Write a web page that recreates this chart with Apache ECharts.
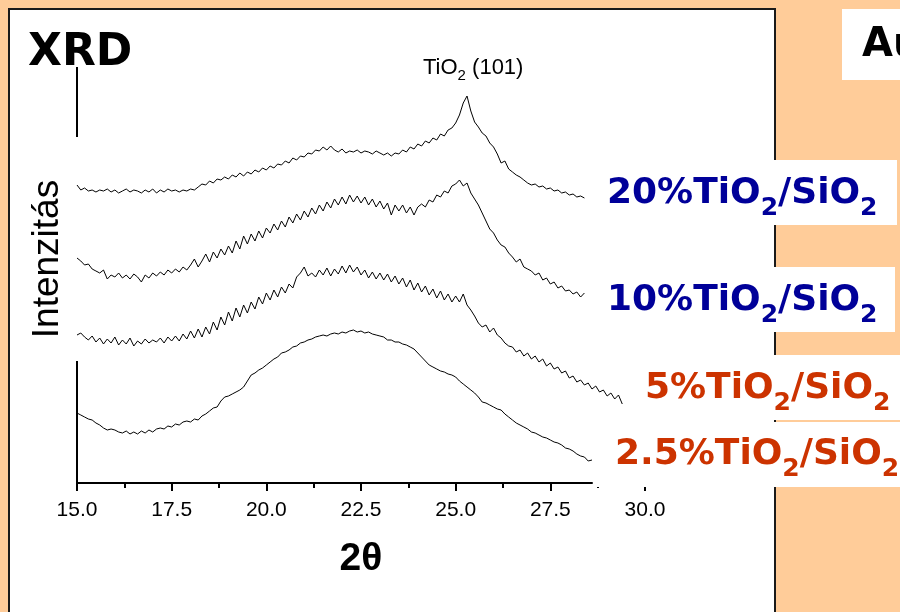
<!DOCTYPE html>
<html><head><meta charset="utf-8">
<script src="https://cdn.jsdelivr.net/npm/echarts@6/dist/echarts.min.js"></script>
<style>html,body{margin:0;padding:0;background:#FFCC99;}#c{width:900px;height:612px;}</style>
</head><body><div id="c"></div>
<script>
// 2θ sampling grid
const twoThetaStart = 15.0;
const twoThetaStep = 0.1;
// intensities (arbitrary units, offset-stacked as in the figure)
const s20 = [298,293,295,292,293,291,293,292,294,291,
 293,290,292,294,291,293,292,290,293,291,
 294,290,293,291,294,292,293,291,293,292,
 294,293,296,299,298,302,300,304,303,306,
 304,308,306,310,307,311,309,313,311,315,
 313,317,315,319,318,322,320,325,323,327,
 326,330,329,333,332,336,333,337,333,331,
 334,330,332,331,333,330,332,331,329,332,
 330,328,330,327,330,329,333,331,336,334,
 339,337,342,340,345,343,349,347,353,355,
 360,368,380,387,372,361,356,350,347,340,
 336,329,320,322,314,311,308,306,303,300,
 298,299,296,297,294,295,292,293,290,291,
 288,289,286,287,285];
const s10 = [225,222,218,219,214,212,210,213,204,208,
 206,210,205,208,204,209,206,201,208,205,
 210,207,211,208,213,210,214,211,216,213,
 218,224,216,222,229,221,231,225,234,228,
 237,230,242,234,247,239,249,242,252,245,
 255,250,259,253,262,256,266,260,269,263,
 272,266,275,269,278,272,281,275,284,278,
 286,279,288,281,287,280,286,278,284,276,
 282,274,280,268,278,272,278,270,276,268,
 276,279,276,283,281,288,286,292,290,297,
 299,303,297,300,290,284,278,270,262,254,
 250,243,238,236,230,226,221,224,216,214,
 212,208,210,203,205,199,201,195,197,192,
 193,189,191,186,190];
const s5 = [148,150,146,143,147,141,145,139,144,140,
 146,138,143,139,145,137,142,139,144,140,
 143,141,145,140,146,142,147,142,149,144,
 152,145,154,146,156,149,161,153,166,158,
 171,162,175,166,178,170,181,174,186,179,
 190,183,193,186,196,190,199,195,206,210,
 216,207,210,206,213,208,215,207,214,209,
 217,210,218,211,216,208,213,205,211,204,
 210,203,209,201,207,199,205,196,203,193,
 200,191,197,188,194,185,192,183,189,181,
 187,181,189,178,173,167,160,156,158,151,
 155,148,145,140,137,136,131,133,127,130,
 124,127,121,124,117,120,114,116,110,112,
 105,107,101,103,98,100,94,97,91,93,
 87,90,84,88,79];
const s25 = [70,68,66,64,63,60,58,55,53,54,
 53,51,50,52,49,51,49,52,50,53,
 51,54,55,54,57,56,59,58,61,62,
 61,64,63,67,69,72,75,76,82,86,
 87,89,91,93,96,102,108,110,113,115,
 118,121,124,126,130,131,133,136,137,140,
 141,143,144,146,147,148,147,149,150,149,
 151,150,152,153,151,152,150,151,149,148,
 147,146,143,143,141,141,139,138,136,134,
 130,126,122,118,116,114,112,111,109,108,
 106,102,99,96,93,90,86,81,80,78,
 76,74,73,69,66,63,60,58,56,54,
 51,50,48,46,45,43,41,40,38,35,
 34,32,29,27,26,22,23];
const seriesNames = ['20%TiO2/SiO2','10%TiO2/SiO2','5%TiO2/SiO2','2.5%TiO2/SiO2'];
const xMin = 15, xMax = 30, xInterval = 2.5;
const xAxisLineEnd = 28.62;          // drawn extent of the bottom axis line
const yAxisSegments = [[416, 346], [122, 0]]; // visible pieces of the left axis line
const yMax = 483;

function toXY(arr) {
  return arr.map((v, i) => [+(twoThetaStart + i * twoThetaStep).toFixed(2), v]);
}
const curves = [s20, s10, s5, s25];

const series = curves.map((c, k) => ({
  name: seriesNames[k], type: 'line', data: toXY(c), showSymbol: false, symbol: 'none',
  lineStyle: { color: '#000', width: 1 }, silent: true, z: 2, animation: false
}));
series.push({
  type: 'line', data: [[xMin, 0], [xAxisLineEnd, 0]], symbol: 'none', silent: true,
  lineStyle: { color: '#000', width: 2 }, z: 2, animation: false
});
yAxisSegments.forEach(seg => series.push({
  type: 'line', data: [[xMin, seg[0]], [xMin, seg[1]]], symbol: 'none', silent: true,
  lineStyle: { color: '#000', width: 2 }, z: 2, animation: false
}));

const blue = '#000099', orange = '#CC3300';
function labelRich(color) {
  return {
    m: { fontFamily: 'DejaVu Sans', fontWeight: 'bold', fontSize: 36, lineHeight: 44, fill: color },
    s: { fontFamily: 'DejaVu Sans', fontWeight: 'bold', fontSize: 25, lineHeight: 16, padding: [28, 0, 0, 0], fill: color }
  };
}
function labelText(pre) { return '{m|' + pre + 'TiO}{s|2}{m|/SiO}{s|2}'; }

const option = {
  backgroundColor: '#FFCC99',
  animation: false,
  grid: { left: 77, right: 255, top: 0, bottom: 129, containLabel: false },
  xAxis: {
    type: 'value', min: xMin, max: xMax, interval: xInterval,
    axisLine: { show: false },
    axisTick: { show: true, inside: false, length: 8, lineStyle: { color: '#000', width: 2 } },
    minorTick: { show: true, splitNumber: 2, length: 5, lineStyle: { color: '#000', width: 2 } },
    splitLine: { show: false },
    axisLabel: { fontFamily: 'Liberation Sans', fontSize: 21, color: '#000', margin: 17,
      formatter: v => v.toFixed(1) }
  },
  yAxis: { type: 'value', min: 0, max: yMax, show: false, splitLine: { show: false } },
  series: series,
  graphic: [
    { type: 'rect', z: 0, silent: true, shape: { x: 9, y: 9, width: 766, height: 640 },
      style: { fill: '#fff', stroke: '#1a1a1a', lineWidth: 2 } },
    { type: 'rect', z: 1, silent: true, shape: { x: 600, y: 160, width: 297, height: 65 }, style: { fill: '#fff' } },
    { type: 'rect', z: 1, silent: true, shape: { x: 600, y: 267, width: 295, height: 65 }, style: { fill: '#fff' } },
    { type: 'rect', z: 1, silent: true, shape: { x: 630, y: 355, width: 270, height: 65 }, style: { fill: '#fff' } },
    { type: 'rect', z: 1, silent: true, shape: { x: 596, y: 422, width: 304, height: 65 }, style: { fill: '#fff' } },
    { type: 'rect', z: 1, silent: true, shape: { x: 842, y: 9, width: 60, height: 71 }, style: { fill: '#fff' } },
    { type: 'text', z: 3, silent: true, style: { text: 'Au', x: 862, y: 46, align: 'left', verticalAlign: 'middle',
      fontFamily: 'DejaVu Sans', fontWeight: 'bold', fontSize: 40, fill: '#000' } },
    { type: 'text', z: 3, silent: true, style: { text: 'XRD', x: 28, y: 54, align: 'left', verticalAlign: 'middle',
      fontFamily: 'DejaVu Sans', fontWeight: 'bold', fontSize: 44, fill: '#000' } },
    { type: 'text', z: 3, silent: true, rotation: Math.PI / 2, x: 48, y: 259,
      style: { text: 'Intenzitás', x: 0, y: 0, align: 'center', verticalAlign: 'middle',
      fontFamily: 'Liberation Sans', fontSize: 37, fill: '#000' } },
    { type: 'text', z: 3, silent: true, style: { text: '2θ', x: 361, y: 559, align: 'center', verticalAlign: 'middle',
      fontFamily: 'Liberation Sans', fontWeight: 'bold', fontSize: 39, fill: '#000' } },
    { type: 'text', z: 3, silent: true, style: { text: '{m|TiO}{s|2}{m| (101)}', x: 423, y: 68, align: 'left', verticalAlign: 'middle',
      rich: {
        m: { fontFamily: 'Liberation Sans', fontSize: 22, lineHeight: 28, fill: '#000' },
        s: { fontFamily: 'Liberation Sans', fontSize: 15, lineHeight: 12, padding: [16, 0, 0, 0], fill: '#000' }
      } } },
    { type: 'text', z: 3, silent: true, style: { text: labelText('20%'), x: 607, y: 194, align: 'left', verticalAlign: 'middle', rich: labelRich(blue) } },
    { type: 'text', z: 3, silent: true, style: { text: labelText('10%'), x: 607, y: 301, align: 'left', verticalAlign: 'middle', rich: labelRich(blue) } },
    { type: 'text', z: 3, silent: true, style: { text: labelText('5%'), x: 645, y: 389, align: 'left', verticalAlign: 'middle', rich: labelRich(orange) } },
    { type: 'text', z: 3, silent: true, style: { text: labelText('2.5%'), x: 615, y: 455, align: 'left', verticalAlign: 'middle', rich: labelRich(orange) } }
  ]
};
const chart = echarts.init(document.getElementById('c'), null, { renderer: 'canvas' });
chart.setOption(option);
</script>
</body></html>
